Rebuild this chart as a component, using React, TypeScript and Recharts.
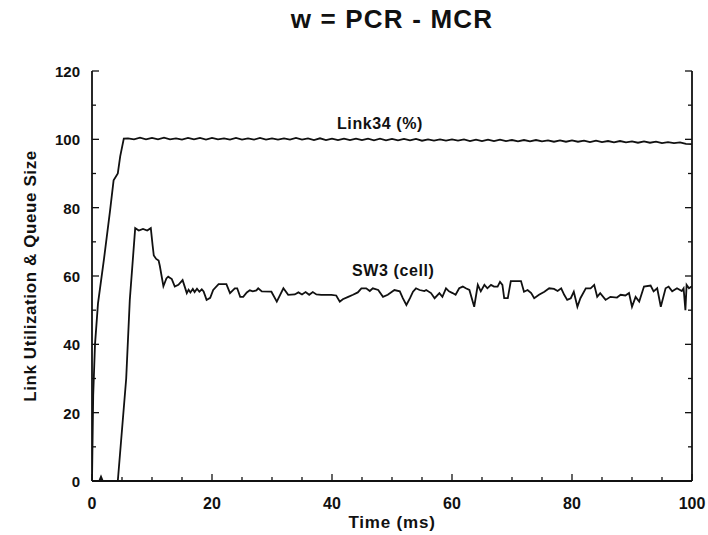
import React from 'react';
import {
  LineChart,
  Line,
  XAxis,
  YAxis,
  ReferenceDot,
} from 'recharts';

// Link34 utilisation (%) — [time ms, value]
const link34Points: Array<[number, number]> = [
  [0, 0], [0.2, 25], [0.5, 40], [1, 52], [2, 65], [3, 79], [3.6, 88], [4.3, 90], [4.7, 95], [5.3, 100.2],
  [6, 100.3], [7, 100.0], [8, 100.5], [9, 100.0], [10, 100.4], [11, 100.0], [12, 100.5], [13, 100.0],
  [14, 100.3], [15, 99.9], [16, 100.4], [17, 100.0], [18, 100.4], [19, 99.9], [20, 100.4], [21, 100.0],
  [22, 100.3], [23, 99.9], [24, 100.4], [25, 99.9], [26, 100.3], [27, 99.9], [28, 100.4], [29, 99.9],
  [30, 100.3], [31, 99.9], [32, 100.3], [33, 99.9], [34, 100.4], [35, 99.9], [36, 100.3], [37, 99.8],
  [38, 100.3], [39, 99.8], [40, 100.2], [41, 99.8], [42, 100.2], [43, 99.8], [44, 100.2], [45, 99.8],
  [46, 100.2], [47, 99.7], [48, 100.2], [49, 99.7], [50, 100.1], [51, 99.7], [52, 100.1], [53, 99.7],
  [54, 100.1], [55, 99.6], [56, 100.0], [57, 99.6], [58, 100.0], [59, 99.6], [60, 100.0], [61, 99.6],
  [62, 100.0], [63, 99.5], [64, 99.9], [65, 99.5], [66, 99.9], [67, 99.5], [68, 99.9], [69, 99.5],
  [70, 99.8], [71, 99.4], [72, 99.8], [73, 99.4], [74, 99.8], [75, 99.4], [76, 99.7], [77, 99.3],
  [78, 99.7], [79, 99.3], [80, 99.7], [81, 99.3], [82, 99.6], [83, 99.2], [84, 99.6], [85, 99.2],
  [86, 99.5], [87, 99.1], [88, 99.5], [89, 99.1], [90, 99.4], [91, 99.0], [92, 99.4], [93, 99.0],
  [94, 99.3], [95, 98.9], [96, 99.2], [97, 98.9], [98, 99.1], [99, 98.7], [100, 98.6],
];

// SW3 queue size (cells) — [time ms, value]
const sw3Points: Array<[number, number]> = [
  [0, 0], [1.2, 0], [1.5, 1.3], [1.8, 0], [4.3, 0], [5.7, 30], [6.3, 53], [7.2, 74], [7.8, 73.3],
  [8.5, 73.8], [9.2, 73.3], [9.8, 74], [10.1, 69], [10.3, 66], [10.7, 65], [11.1, 64.5], [11.3, 63],
  [11.9, 57], [12.4, 59.3], [12.7, 59.8], [13.3, 59.1], [13.8, 56.9], [14.4, 57.4], [15.1, 58.8],
  [15.8, 55], [16.1, 56], [16.4, 55.2], [16.8, 56.2], [17.1, 55.3], [17.5, 56.3], [17.9, 55.4],
  [18.3, 56.1], [18.6, 55.5], [19.1, 53], [19.7, 53.6], [20.2, 55.9], [21.1, 57.6], [22.4, 57.6],
  [23, 55], [23.8, 56.4], [24.2, 56.4], [24.7, 53.9], [25.2, 53.9], [25.8, 55.2], [26.3, 55.8],
  [26.8, 55.5], [27.4, 55.8], [27.7, 56.4], [28.3, 55.5], [29.9, 55.4], [30.8, 52.5], [31.9, 56.4],
  [32.7, 54.5], [33.8, 54.6], [34.4, 55.2], [35, 54.6], [35.6, 55.3], [36.2, 54.5], [36.8, 55.3],
  [37.4, 54.6], [38.2, 54.5], [39.9, 54.5], [40.7, 54.3], [41.3, 52.5], [41.8, 53.2], [42.7, 53.9],
  [43.5, 54.5], [44.3, 55.2], [44.9, 56.4], [45.7, 56.4], [46.3, 55.6], [46.8, 56.4], [47.7, 55.9],
  [48.5, 53.9], [49.3, 54.5], [50.4, 55.9], [51.3, 55.5], [51.8, 53.5], [52.4, 51.5], [53, 53.5],
  [53.5, 55.4], [54, 56.4], [54.6, 55.9], [55.4, 55.6], [55.7, 55.9], [56.5, 55], [57.1, 53.5],
  [57.9, 55], [58.4, 53.9], [59, 56.4], [59.5, 55.5], [60.1, 55], [60.6, 54.5], [61.2, 56.4],
  [61.8, 56.9], [62.3, 56.4], [62.9, 55.9], [63.7, 51], [64.3, 57.4], [64.8, 55.5], [65.4, 57.4],
  [65.9, 56.4], [66.5, 57.4], [67, 56.9], [67.6, 56.9], [68, 58.3], [68.4, 57.4], [68.7, 53.5],
  [69.3, 53.5], [69.8, 58.5], [71.5, 58.5], [72, 55.4], [72.6, 55.9], [73.2, 55], [73.7, 53.5],
  [74.5, 54.5], [75.4, 55.4], [76.2, 56.4], [77, 56.2], [77.6, 55.6], [78.2, 56.4], [78.7, 54.5],
  [79.2, 53], [79.8, 53.5], [80.3, 55.4], [80.9, 51], [81.4, 53.5], [82.3, 56.4], [83.1, 56.4],
  [83.7, 57.4], [84.2, 53.9], [84.7, 55], [85.6, 53], [86.4, 53.9], [87.5, 53.7], [88.1, 54.5],
  [88.9, 54.3], [89.5, 55], [90, 51], [90.6, 53.9], [91.2, 52.5], [92, 56.9], [93.1, 57.2],
  [93.6, 55.5], [94.2, 56.4], [94.8, 51], [95.6, 56.4], [96.1, 56.9], [96.7, 55.5], [97.5, 56.4],
  [98.3, 55.6], [98.6, 56.4], [98.9, 50], [99.1, 57.4], [99.5, 56.4], [100, 57],
];

const xTicks = [0, 5, 10, 15, 20, 25, 30, 35, 40, 45, 50, 55, 60, 65, 70, 75, 80, 85, 90, 95, 100];
const yTicks = [0, 5, 10, 15, 20, 25, 30, 35, 40, 45, 50, 55, 60, 65, 70, 75, 80, 85, 90, 95, 100, 105, 110, 115, 120];

const title = 'w = PCR - MCR';
const xLabel = 'Time (ms)';
const yLabel = 'Link Utilization & Queue Size';

const link34 = link34Points.map(([t, v]) => ({ t, v }));
const sw3 = sw3Points.map(([t, v]) => ({ t, v }));

const FONT = '"Liberation Sans", Arial, sans-serif';
const INK = '#111';

const isMajor = (v: number) => v % 20 === 0;

// ticks point inward; labels only on multiples of 20
const LeftTick = ({ x, y, payload }: any) => (
  <g>
    <line x1={x} y1={y} x2={x + (isMajor(payload.value) ? 7 : 4)} y2={y} stroke={INK} strokeWidth={1.3} />
    {isMajor(payload.value) && (
      <text x={x - 12} y={y + 6} textAnchor="end" fontSize={15} fontWeight="bold" fontFamily={FONT} fill={INK}>
        {payload.value}
      </text>
    )}
  </g>
);

const RightTick = ({ x, y, payload }: any) => (
  <line x1={x} y1={y} x2={x - (isMajor(payload.value) ? 7 : 4)} y2={y} stroke={INK} strokeWidth={1.3} />
);

const BottomTick = ({ x, y, payload }: any) => (
  <g>
    <line x1={x} y1={y} x2={x} y2={y - (isMajor(payload.value) ? 7 : 4)} stroke={INK} strokeWidth={1.3} />
    {isMajor(payload.value) && (
      <text x={x} y={y + 28} textAnchor="middle" fontSize={16} fontWeight="bold" fontFamily={FONT} fill={INK}>
        {payload.value}
      </text>
    )}
  </g>
);

const TopTick = ({ x, y, payload }: any) => (
  <line x1={x} y1={y} x2={x} y2={y + (isMajor(payload.value) ? 7 : 4)} stroke={INK} strokeWidth={1.3} />
);

const annot = { fontSize: 16, fontWeight: 'bold', fontFamily: FONT, fill: INK, letterSpacing: 0.6 };

export default function App() {
  return (
    <div style={{ position: 'absolute', left: 0, top: 0, width: 708, height: 535, background: '#fff' }}>
      <div
        style={{
          position: 'absolute',
          left: 92,
          width: 600,
          top: 4,
          textAlign: 'center',
          fontFamily: FONT,
          fontSize: 26,
          fontWeight: 'bold',
          letterSpacing: 1.2,
          color: INK,
        }}
      >
        {title}
      </div>
      <LineChart width={708} height={535} margin={{ top: 71, right: 0, bottom: 0, left: 0 }}>
        <XAxis
          xAxisId="b"
          dataKey="t"
          type="number"
          domain={[0, 100]}
          ticks={xTicks}
          allowDataOverflow
          height={54}
          tickSize={0}
          tickMargin={0}
          tickLine={false}
          tick={<BottomTick />}
          axisLine={{ stroke: INK, strokeWidth: 1.8 }}
          label={{
            value: xLabel,
            position: 'center',
            dy: 14,
            fontSize: 17,
            fontWeight: 'bold',
            letterSpacing: 0.8,
            fontFamily: FONT,
            fill: INK,
          }}
        />
        <XAxis
          xAxisId="top"
          orientation="top"
          type="number"
          domain={[0, 100]}
          ticks={xTicks}
          allowDataOverflow
          height={0}
          tickSize={0}
          tickMargin={0}
          tickLine={false}
          tick={<TopTick />}
          axisLine={{ stroke: INK, strokeWidth: 1.8 }}
        />
        <YAxis
          yAxisId="l"
          type="number"
          domain={[0, 120]}
          ticks={yTicks}
          allowDataOverflow
          width={92}
          tickSize={0}
          tickMargin={0}
          tickLine={false}
          tick={<LeftTick />}
          axisLine={{ stroke: INK, strokeWidth: 1.8 }}
          label={{
            value: yLabel,
            angle: -90,
            position: 'center',
            dx: -16,
            fontSize: 17,
            fontWeight: 'bold',
            letterSpacing: 0.6,
            fontFamily: FONT,
            fill: INK,
          }}
        />
        <YAxis
          yAxisId="r"
          orientation="right"
          type="number"
          domain={[0, 120]}
          ticks={yTicks}
          allowDataOverflow
          width={16}
          tickSize={0}
          tickMargin={0}
          tickLine={false}
          tick={<RightTick />}
          axisLine={{ stroke: INK, strokeWidth: 1.8 }}
        />
        <Line
          xAxisId="b"
          yAxisId="l"
          data={link34}
          dataKey="v"
          type="linear"
          stroke={INK}
          strokeWidth={1.8}
          dot={false}
          isAnimationActive={false}
        />
        <Line
          xAxisId="b"
          yAxisId="l"
          data={sw3}
          dataKey="v"
          type="linear"
          stroke={INK}
          strokeWidth={1.8}
          dot={false}
          isAnimationActive={false}
        />
        <ReferenceDot
          xAxisId="b"
          yAxisId="l"
          x={48}
          y={104.8}
          r={0}
          fill="none"
          stroke="none"
          label={{ value: 'Link34 (%)', position: 'center', ...annot }}
        />
        <ReferenceDot
          xAxisId="b"
          yAxisId="l"
          x={50.2}
          y={61.8}
          r={0}
          fill="none"
          stroke="none"
          label={{ value: 'SW3 (cell)', position: 'center', ...annot }}
        />
      </LineChart>
    </div>
  );
}
